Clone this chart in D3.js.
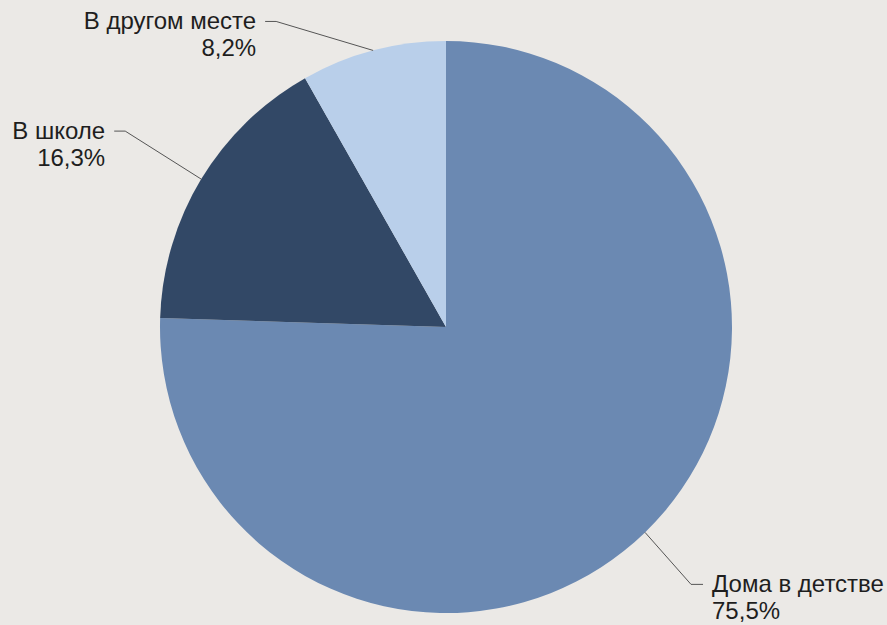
<!DOCTYPE html>
<html>
<head>
<meta charset="utf-8">
<script src="https://cdn.jsdelivr.net/npm/d3@7"></script>
<style>
  html, body { margin: 0; padding: 0; background: #ebe9e6; }
  svg { display: block; }
  text { font-family: "Liberation Sans", Arial, sans-serif; fill: #1e1e1e; }
</style>
</head>
<body>
<svg id="chart" width="887" height="625"></svg>
<script>
// Where people learned: share of respondents, percent
const categories = ["Дома в детстве", "В школе", "В другом месте"];
const shares = [75.5, 16.3, 8.2];
const valueLabels = ["75,5%", "16,3%", "8,2%"];

const colors = ["#6b89b2", "#324866", "#b9cfea"];

// Leader line elbows relative to the slice's outer midpoint, and label side
const leaders = [
  { dx: 46, dy: 52, run: 12, anchor: "start" },
  { dx: -76, dy: -48, run: -11, anchor: "end" },
  { dx: -97, dy: -29, run: -11, anchor: "end" }
];

const W = 887, H = 625;
const cx = 446, cy = 327, R = 286;

const svg = d3.select("#chart");
const g = svg.append("g").attr("transform", `translate(${cx},${cy})`);

const pie = d3.pie().sort(null).value(d => d.v).startAngle(0).endAngle(2 * Math.PI);
const data = categories.map((c, i) => ({ name: c, v: shares[i], label: valueLabels[i], i }));
const arcs = pie(data);

const arc = d3.arc().innerRadius(0).outerRadius(R);

g.selectAll("path.slice")
  .data(arcs)
  .join("path")
  .attr("class", "slice")
  .attr("d", arc)
  .attr("fill", d => colors[d.data.i]);

const fontSize = 24, lineGap = 27;

arcs.forEach(a => {
  const mid = (a.startAngle + a.endAngle) / 2;
  const px = R * Math.sin(mid), py = -R * Math.cos(mid);
  const L = leaders[a.data.i];
  const ex = px + L.dx, ey = py + L.dy;
  const hx = ex + L.run;
  g.append("polyline")
    .attr("points", [[px, py], [ex, ey], [hx, ey]].map(p => p.join(",")).join(" "))
    .attr("fill", "none")
    .attr("stroke", "#555")
    .attr("stroke-width", 1);
  const tx = hx + (L.anchor === "start" ? 9 : -9);
  const t = g.append("text")
    .attr("text-anchor", L.anchor)
    .attr("font-size", fontSize);
  t.append("tspan").attr("x", tx).attr("y", ey + 8).text(a.data.name);
  t.append("tspan").attr("x", tx).attr("y", ey + 8 + lineGap).text(a.data.label);
});
</script>
</body>
</html>
